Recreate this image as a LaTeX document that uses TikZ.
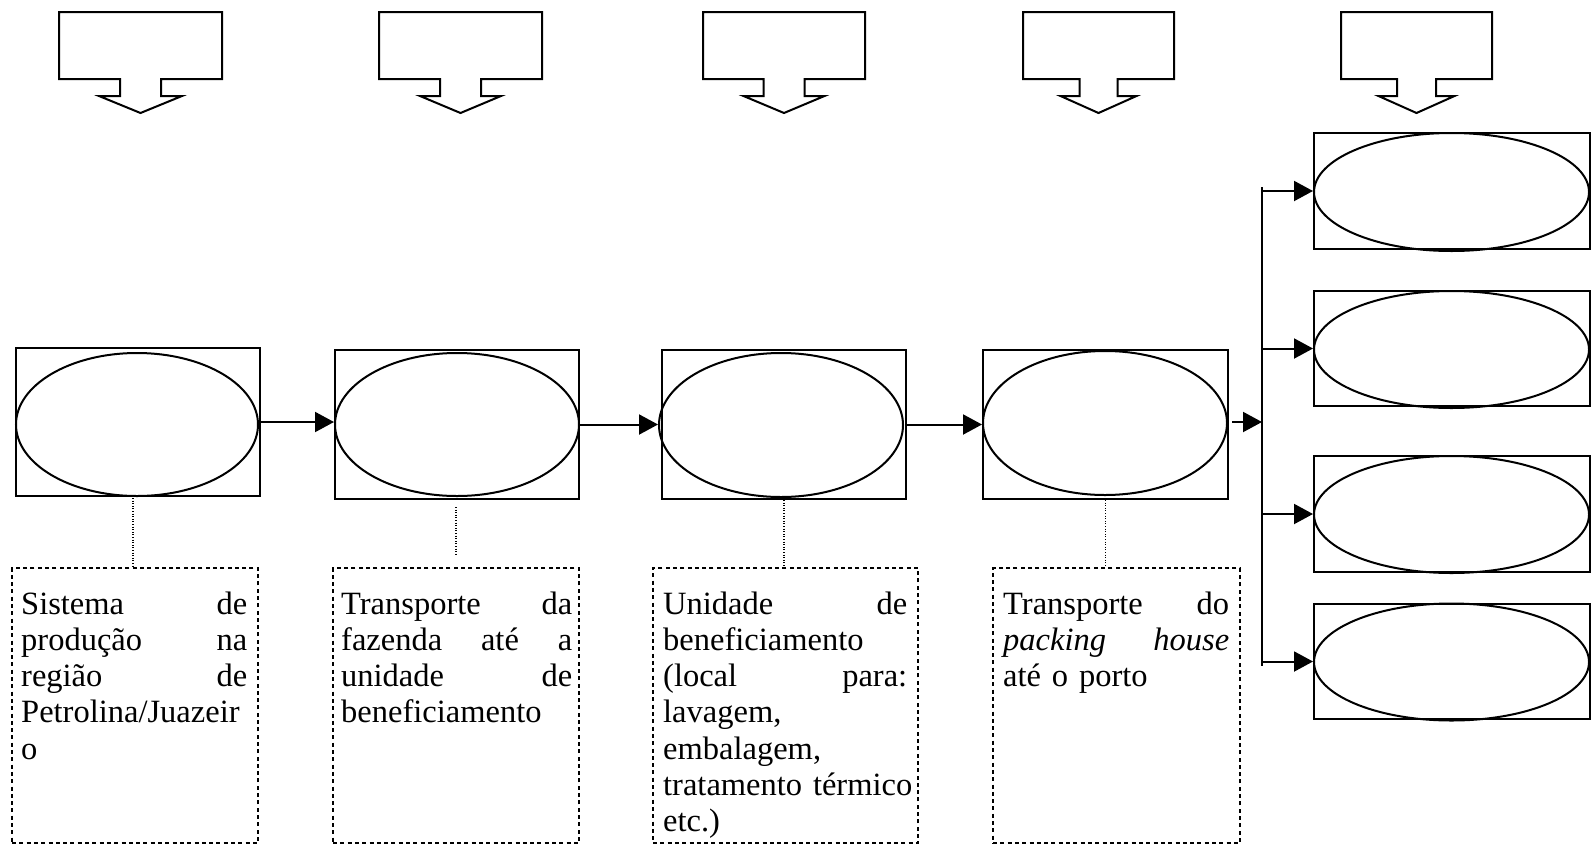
\documentclass[tikz,border=0pt]{standalone}
\usepackage{fontspec}
\setmainfont{Liberation Serif}
\usetikzlibrary{shapes.geometric,arrows.meta}
\newcommand\jl[1]{\noindent\hbox to\hsize{#1}}
\newcommand\blockarrow[4]{\draw[blk] ({#1-#2},12) -- ({#1+#2},12) -- ({#1+#2},79) -- ({#1+#3},79) -- ({#1+#3},96) -- ({#1+#4},96) -- (#1,113) -- ({#1-#4},96) -- ({#1-#3},96) -- ({#1-#3},79) -- ({#1-#2},79) -- cycle;}
\begin{document}
\begin{tikzpicture}[x=1pt,y=-1pt,
  blk/.style={line width=2pt,line join=miter},
  mainbox/.style={draw,line width=2pt,rectangle,inner sep=0pt},
  oval/.style={draw,line width=2pt,ellipse,inner sep=0pt},
  note/.style={draw,line width=2.8pt,dash pattern=on 4pt off 3.3pt,rectangle,inner sep=0pt},
  dotline/.style={line width=1.1pt,dash pattern=on 1pt off 1.6pt},
  arr/.style={line width=2pt,-{Triangle[length=19pt,width=20pt]}},
  plain/.style={line width=2pt},
  txt/.style={inner sep=0pt,anchor=north west,align=left,font={\fontsize{32.5}{36.2}\selectfont}}]
\useasboundingbox (0,0) rectangle (1595,849);

% top block arrows
\blockarrow{140.5}{81.5}{20.5}{41.5}
\blockarrow{460.5}{81.5}{20.5}{40.5}
\blockarrow{784}{81}{20.5}{40.5}
\blockarrow{1098.5}{75.5}{19}{38}
\blockarrow{1416.5}{75.5}{19.5}{38}

% main chain
\node[mainbox,minimum width=244pt,minimum height=148pt] (b1) at (138,422) {};
\node[oval,minimum width=242pt,minimum height=143pt] (e1) at (137,424.5) {};
\node[mainbox,minimum width=244pt,minimum height=149pt] (b2) at (457,424.5) {};
\node[oval,minimum width=244pt,minimum height=143pt] (e2) at (457,424.5) {};
\node[mainbox,minimum width=244pt,minimum height=149pt] (b3) at (784,424.5) {};
\node[oval,minimum width=244pt,minimum height=144pt] (e3) at (781,425) {};
\node[mainbox,minimum width=245pt,minimum height=149pt] (b4) at (1105.5,424.5) {};
\node[oval,minimum width=244pt,minimum height=144pt] (e4) at (1105,423) {};

% right boxes
\node[mainbox,minimum width=276pt,minimum height=116pt] (r1) at (1452,191) {};
\node[oval,minimum width=275pt,minimum height=118pt] (o1) at (1451.5,192) {};
\node[mainbox,minimum width=276pt,minimum height=115pt] (r2) at (1452,348.5) {};
\node[oval,minimum width=275pt,minimum height=117pt] (o2) at (1451.5,349.5) {};
\node[mainbox,minimum width=276pt,minimum height=116pt] (r3) at (1452,514) {};
\node[oval,minimum width=275pt,minimum height=117pt] (o3) at (1451.5,514.5) {};
\node[mainbox,minimum width=276pt,minimum height=115pt] (r4) at (1452,661.5) {};
\node[oval,minimum width=275pt,minimum height=117pt] (o4) at (1451.5,662) {};

% connectors of the chain
\draw[arr] (b1.east) -- (b1.east -| e2.west);
\draw[arr] (b2.east) -- (b2.east -| e3.west);
\draw[arr] (b3.east) -- (b3.east -| e4.west);
\coordinate (jn) at (1262,422);
\coordinate (b4out) at (1232,422);
\draw[arr] (b4out) -- (jn);
\coordinate (vtop) at (1262,187);
\coordinate (vbot) at (1262,666);
\draw[plain] (vtop) -- (vbot);
\draw[arr] (r1.west -| jn) -- (o1.west |- r1.west);
\draw[arr] (r2.west -| jn) -- (o2.west |- r2.west);
\draw[arr] (r3.west -| jn) -- (o3.west |- r3.west);
\draw[arr] (r4.west -| jn) -- (o4.west |- r4.west);

% dashed notes
\node[note,minimum width=246pt,minimum height=275pt] (d1) at (135,705.5) {};
\node[note,minimum width=246pt,minimum height=275pt] (d2) at (456,705.5) {};
\node[note,minimum width=265pt,minimum height=275pt] (d3) at (785.5,705.5) {};
\node[note,minimum width=247pt,minimum height=275pt] (d4) at (1116.5,705.5) {};

% dotted links
\coordinate (c1a) at (133,498);
\coordinate (c1b) at (133,568);
\draw[dotline] (c1a) -- (c1b);
\coordinate (c2a) at (456,507);
\coordinate (c2b) at (456,555);
\draw[dotline] (c2a) -- (c2b);
\draw[dotline] (b3.south) -- (b3.south |- d3.north);
\draw[dotline] (b4.south) -- (b4.south |- d4.north);

% texts
\node[txt,text width=226pt] (t1) at (21,590) {\jl{\rule{0pt}{24pt}Sistema\hfill de}\\ \jl{produção\hfill na}\\ \jl{região\hfill de}\\ Petrolina/Juazeir\\ o};
\node[txt,text width=231pt] (t2) at (341,590) {\jl{\rule{0pt}{24pt}Transporte\hfill da}\\ \jl{fazenda\hfill até\hfill a}\\ \jl{unidade\hfill de}\\ beneficiamento};
\node[txt,text width=244pt] (t3) at (663,590) {\jl{\rule{0pt}{24pt}Unidade\hfill de}\\ beneficiamento\\ \jl{(local\hfill para:}\\ lavagem,\\ embalagem,\\ \jl{tratamento térmico\hss}\\ etc.)};
\node[txt,text width=226pt] (t4) at (1003,590) {\jl{\rule{0pt}{24pt}Transporte\hfill do}\\ \jl{\textit{packing}\hfill\textit{house}}\\ até o porto};
\end{tikzpicture}
\end{document}
